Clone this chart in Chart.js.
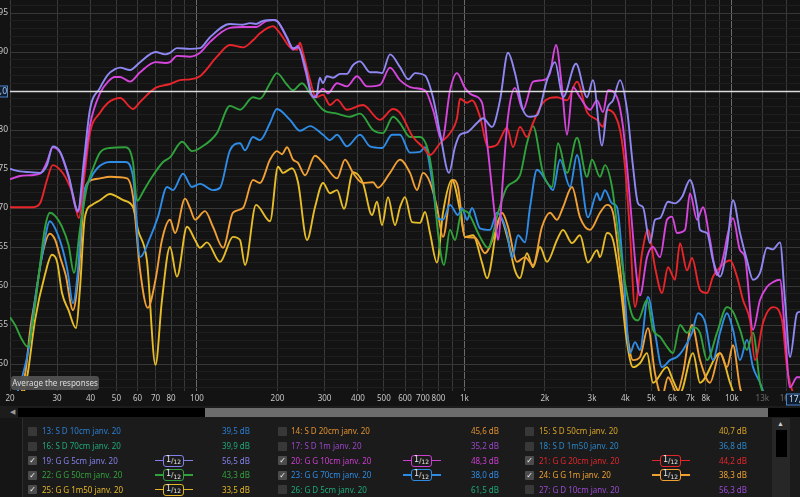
<!DOCTYPE html>
<html>
<head>
<meta charset="utf-8">
<script src="https://cdn.jsdelivr.net/npm/chart.js@4.4.1/dist/chart.umd.min.js"></script>
<style>
  html, body { margin: 0; padding: 0; background: #131313; }
  #wrap { position: relative; width: 800px; height: 497px; overflow: hidden; font-family: "Noto Sans", sans-serif; }
  #c { position: absolute; left: 0; top: 0; }
  .tip { position: absolute; left: 11px; top: 376px; width: 88px; height: 14px; background: rgba(80,80,80,0.95);
         border-radius: 3px; color: #dedede; font-size: 8px; line-height: 14px; text-align: center; }
  #hs { position: absolute; left: 0; top: 406px; width: 800px; height: 12px; background: #1c1c1c; }
  #hs .arr { position: absolute; left: 10px; top: 0; font-size: 7px; line-height: 12px; color: #9a9a9a; }
  #hs .b { position: absolute; top: 2px; height: 9px; }
  #legend { position: absolute; left: 0; top: 418px; width: 800px; height: 79px; background: #1b1b1b; overflow: hidden; }
  #legend .side { position: absolute; left: 0; top: 0; width: 22px; height: 79px; background: #151515; border-right: 1px solid #2c2c2c; }
  #legend .cb { position: absolute; width: 9px; height: 9px; border-radius: 1px; background: #383838;
                color: #f0f0f0; font: 8px/9px "DejaVu Sans", sans-serif; text-align: center; }
  #legend .cb.on { background: #4c4c4c; }
  #legend .nm, #legend .lv { position: absolute; font-size: 8px; line-height: 12px; white-space: nowrap; }
  #legend .ic { position: absolute; width: 38px; height: 12px; }
  #legend .ic .ln { position: absolute; left: 0; top: 5.4px; width: 38px; height: 1.3px; }
  #legend .ic .bx { position: absolute; left: 8px; top: 0; width: 19px; height: 10px; border: 1.3px solid; border-radius: 3px;
                    background: #1b1b1b; color: #e8e8e8; font: 7px/10px "DejaVu Sans", sans-serif; text-align: center; }
  #legend .ic .bx i { font-style: normal; font-size: 8px; position: relative; top: -1px; }
  #legend .ic .bx b { font-weight: normal; font-size: 6px; position: relative; top: 1.5px; }
  #vs { position: absolute; left: 772px; top: 0; width: 18px; height: 79px; background: #272727; }
  #vs .up { position: absolute; left: 5px; top: 1px; font-size: 7px; line-height: 10px; color: #d0d0d0; }
  #vs .th { position: absolute; left: 4px; top: 12px; width: 11px; height: 27px; background: #000; }
</style>
</head>
<body>
<div id="wrap">
  <canvas id="c" width="800" height="406" style="width:800px;height:406px"></canvas>
  <div class="tip">Average the responses</div>
  <div id="hs">
    <div class="arr">&#9664;</div>
    <div class="b" style="left:18px;width:187px;background:#000"></div>
    <div class="b" style="left:205px;width:563px;background:#6c6c6c"></div>
    <div class="b" style="left:768px;width:32px;background:#000"></div>
  </div>
  <div id="legend">
    <div class="side"></div>
    <div id="vs"><div class="up">&#9650;</div><div class="th"></div></div>
  </div>
</div>
<script>
// frequency axis ticks (Hz)
const xTicks = [20, 30, 40, 50, 60, 70, 80, 90, 100, 200, 300, 400, 500, 600, 700, 800, 900,
  1000, 2000, 3000, 4000, 5000, 6000, 7000, 8000, 9000, 10000, 13000, 16000];
const xUnlabelled = [90, 900, 9000];
const xDim = [13000, 16000];

// 19: G G 5cm
const f19 = [20,21.8,23.8,25.9,27.5,28.9,30.8,33.1,35.9,37.8,39.8,43.4,46.5,49.4,51.6,56.2,61.3,70,76,79.3,
  84.2,94.2,102.7,111.9,132.9,148.7,157.9,166.3,176.6,192.5,199,217,229,239,254,269,279,288,296,306,
  323,343,364,383,407,444,471,492,527,574,617,654,712,763,811,876,922,963,1023,1115,
  1174,1269,1359,1456,1546,1656,1760,1869,2037,2182,2338,2615,2874,3026,3271,3414,3596,3819,4057,4271,
  4459,4655,4944,5162,5389,5773,6131,6512,6977,7411,7604,8076,8505,9033,9594,10102,10730,11396,12001,12747,
  13539,14257,15142,15808,16503,17529,17987];
const db19 = [75.0,74.7,74.6,74.5,75.5,77.9,77.2,74.2,69.7,76.1,82.6,85.4,87.1,87.8,88.0,87.7,88.7,90.0,89.7,89.9,
  90.5,90.4,90.5,91.9,93.6,93.5,93.7,93.6,94.0,94.1,94.0,91.9,90.5,90.6,88.1,84.5,84.2,86.7,86.0,86.9,
  86.7,87.2,87.2,88.3,88.8,87.4,87.4,87.3,89.7,88.1,86.5,87.3,87.0,84.2,79.6,74.5,77.8,79.4,79.7,80.9,
  81.5,80.4,83.8,89.9,87.3,82.6,81.7,81.9,86.4,88.7,84.2,88.5,84.2,86.4,78.0,82.6,83.8,86.4,82.6,75.3,
  70.6,70.1,65.5,68.5,68.7,70.8,70.6,71.4,73.6,70.1,67.2,66.8,63.3,61.2,65.0,71.0,66.8,63.3,60.8,61.7,
  64.9,64.7,65.6,58.2,50.9,56.5,56.7];

// 20: G G 10cm
const f20 = [20,21.8,23.8,25.9,27.5,28.9,30.8,33.1,35.9,37.8,39.8,43.4,46.5,49.4,51.6,56.2,61.3,70,76,79.3,
  84.2,94.2,102.7,111.9,132.9,148.7,166.3,182.2,195.9,217,229,239,254,272,284,296,309,334,364,397,
  432,484,527,574,643,712,763,825,884,938,1005,1068,1164,1225,1302,1336,1395,1456,1546,1656,
  1806,1968,2090,2201,2318,2419,2548,2706,2949,3133,3299,3444,3722,3919,4162,4420,4536,4818,5073,5389,
  5723,5975,6237,6682,6977,7411,7803,8288,8802,9269,9677,10102,10730,11202,12001,12747,13539,14257,15142,15808,
  16503,17529,17987];
const db20 = [73.7,74.1,74.2,74.4,75.9,77.8,77.1,74.0,69.5,74.9,80.6,84.7,86.2,86.8,86.8,86.2,87.4,88.7,88.6,88.7,
  89.5,89.4,89.9,91.3,93.1,93.2,93.2,94.0,94.1,91.8,90.3,90.8,87.7,84.2,84.7,85.3,84.7,86.0,85.6,86.9,
  85.6,85.8,88.0,86.4,85.4,85.1,82.6,78.7,85.1,87.3,85.4,84.5,83.5,77.4,68.8,65.9,74.0,81.7,85.4,82.6,
  86.2,86.4,87.3,90.9,85.4,79.4,85.5,84.2,82.6,83.8,82.3,85.1,84.2,80.4,71.0,60.8,58.8,63.7,65.0,63.7,
  68.5,68.9,66.8,67.2,71.9,68.5,70.1,65.9,61.4,63.6,66.8,68.7,64.6,63.7,54.4,58.2,59.9,60.5,60.8,54.0,
  47.0,48.3,48.3];

// 21: G G 20cm
const f21 = [20,21.8,24.4,25.9,27.5,28.9,30.8,32.3,34.4,36.2,37.8,39.8,43.4,46.5,49.4,51.6,57.7,61.3,70,79.3,
  86.4,94.2,102.7,118.8,132.9,148.7,162,172.1,192.5,204.5,222.8,236.7,242.9,249.2,264.7,278.7,296.1,314.5,334.2,363.9,
  417.7,483.6,540.9,574.5,642.6,700.4,743.8,810.7,883.6,938.4,963,1023,1068,1144,1225,1324,1444,1520,1614,1714,
  1806,1968,2220,2419,2637,2874,3133,3299,3414,3658,3819,3987,4162,4345,4615,4859,5162,5483,5773,6131,
  6401,6798,7098,7604,8076,8505,9033,9845,10456,11011,11695,12209,13081,14257,15405,16082,16789,17987];
const db21 = [70.1,70.1,70.1,70.6,73.6,75.5,74.9,73.9,71.7,68.7,73.6,79.6,82.2,83.5,84.0,84.1,82.7,83.6,85.4,85.9,
  86.4,86.5,86.9,89.4,90.9,90.6,91.5,92.4,93.3,92.4,90.6,90.3,91.2,89.9,86.4,84.2,84.5,83.2,83.9,82.6,
  83.2,81.3,82.7,82.2,79.1,77.8,76.8,78.3,79.6,81.5,84.0,83.5,83.8,81.7,77.8,78.1,80.3,77.8,80.4,79.1,
  80.9,83.5,84.2,83.8,86.2,82.3,81.3,80.4,82.6,81.9,80.0,75.3,66.8,57.3,64.2,67.2,62.4,59.1,62.4,60.8,
  65.5,62.0,63.6,59.5,59.1,61.2,62.4,63.3,61.2,58.2,55.6,50.5,55.3,57.3,55.6,49.6,46.7,45.4];

// 22: G G 50cm
const f22 = [20,20.9,22.2,23.3,24.4,25.9,27.0,28.2,29.5,31.3,33.1,34.7,36.5,38.8,40.9,43.4,47.3,53.9,57.7,59.7,
  62.9,66.8,74.7,79.3,88.0,95.8,102.7,118.8,132.9,144.9,162,172.1,187.6,199,217.2,228.7,247.1,264.7,296.1,334.2,
  373.6,407.1,455.3,496.2,540.9,574.5,626.2,682.5,731.3,763.3,796.8,839.1,883.6,922.4,979.7,1032,1144,1225,1336,1444,
  1614,1714,1806,1968,2126,2239,2419,2637,2874,3000,3215,3356,3565,3754,3987,4271,4459,4818,5073,5389,
  5723,6027,6401,6798,7160,7604,8076,8802,9594,10102,10730,11396,12001,12747,13539,17987];
const db22 = [56.0,55.0,53.1,52.2,55.6,62.7,67.4,69.4,69.0,67.6,65.3,61.7,67.2,72.7,75.1,77.1,77.7,77.8,75.8,70.9,
  72.1,73.6,75.9,76.5,78.5,77.3,77.7,79.6,83.1,82.6,84.2,84.0,86.0,87.3,85.8,85.1,86.0,84.7,82.6,82.1,
  81.7,82.1,80.0,79.6,81.7,80.9,79.1,79.1,77.4,73.6,66.8,62.7,67.2,65.9,69.7,69.4,66.3,64.9,69.4,72.7,
  74.2,78.3,80.5,74.5,72.7,78.3,74.5,79.0,74.0,76.2,74.0,75.5,72.7,66.8,60.4,56.0,55.6,58.2,54.4,53.5,
  52.2,51.4,55.0,54.0,54.7,54.0,50.5,54.0,57.3,56.7,54.4,51.8,54.0,47.6,45.4,41.5];

// 23: G G 70cm
const f23 = [20.9,22.4,23.6,24.8,26.4,28.2,29.5,31.3,32.8,34.4,35.9,37.5,39.8,42.4,47.3,53.9,57.7,61.3,66.8,71.4,
  77.3,81.4,88.7,95.8,102.7,114.8,122.0,132.9,144.9,151.3,162,172.1,187.6,199,222.8,242.9,264.7,296.1,314.5,334.2,
  363.9,407.1,443.7,492.0,536.2,574.5,626.2,682.5,712.5,763.3,790,831.9,883.6,946.5,979.7,1023,1068,1144,1247,1324,
  1444,1507,1587,1685,1760,1869,2037,2145,2278,2483,2637,2899,3133,3215,3356,3565,3722,3919,4162,4345,
  4536,4859,5162,5483,5873,6237,6569,7098,7475,7938,8505,9033,9594,10102,10730,11396,12001,12747,13893];
const db23 = [45.4,48.8,52.4,58.2,64.0,68.3,67.4,65.0,62.0,57.8,62.0,71.0,73.6,75.1,75.9,75.9,74.0,63.7,66.2,68.8,
  72.7,72.3,74.4,72.7,73.1,72.3,72.6,77.4,78.3,77.4,79.1,78.7,80.9,82.7,81.3,79.9,80.5,79.4,78.7,79.4,
  77.9,79.4,77.9,77.7,79.4,79.4,77.1,77.2,77.8,72.7,68.8,68.5,70.4,69.1,70.0,68.5,70.0,67.4,67.2,69.4,
  66.8,63.6,66.5,65.6,70.1,74.9,73.3,72.3,76.2,72.7,76.8,68.8,71.9,71.0,72.3,70.6,70.1,62.4,51.4,52.8,
  51.8,58.6,54.0,49.6,50.5,50.9,51.8,54.0,56.5,55.4,50.5,54.0,56.5,54.4,50.5,53.1,49.6,47.6,44.1];

// 24: G G 1m
const f24 = [21.8,22.9,23.8,24.8,26.4,28.2,29.5,30.8,32.3,34.4,36.2,38.1,40.5,43.4,47.3,54.8,57.7,61.3,65.5,70.0,
  74.0,79.3,82.8,90.3,94.2,98.4,107.2,114.8,125.2,136.4,148.7,162,172.1,187.6,199,208.1,217.2,228.7,238.7,253.6,
  276.3,296.1,334.2,357.8,383.4,417.7,455.3,475.3,527.1,574.5,626.2,665.0,700.4,743.8,790,831.9,906.7,946.5,1005,1096,
  1194,1302,1383,1456,1573,1685,1806,1951,2090,2220,2338,2526,2706,2949,3215,3414,3596,3819,4057,4271,
  4536,4859,5162,5483,5773,6237,6569,7098,7604,8288,9033,9594,10102,10730,11695];
const db24 = [45.4,49.2,54.4,58.2,64.0,66.7,65.9,63.7,61.4,56.9,62.0,72.3,73.6,73.8,74.0,73.8,71.4,62.0,57.2,60.8,
  65.9,68.5,66.8,71.2,70.0,68.5,69.6,67.6,64.9,69.4,70.0,73.6,73.2,76.2,77.3,76.9,77.8,76.2,75.8,74.2,
  76.7,75.8,73.8,76.2,74.5,73.2,73.3,72.6,74.5,76.2,74.5,72.3,74.5,73.3,70.1,66.3,73.6,72.7,66.3,66.2,
  64.2,66.8,69.4,67.6,63.1,63.7,62.7,67.6,69.4,68.5,70.1,72.7,68.8,67.2,69.4,70.4,69.4,62.4,54.0,50.5,
  50.9,54.6,48.8,45.8,48.3,46.3,48.8,55.0,50.5,47.6,51.4,49.6,52.4,47.0,44.1];

// 25: G G 1m50
const f25 = [22.2,23.3,24.8,27.0,28.7,30.0,31.3,33.1,35.3,36.5,38.1,40.5,43.4,47.3,53.0,57.7,60.2,65.0,70.0,74.0,
  79.3,84.2,91.8,98.4,102.7,109.0,122.0,136.4,144.9,151.3,166.3,187.6,201.0,209.9,226.7,238.7,258.0,276.3,296.1,314.5,
  334.2,354.7,383.4,417.7,451.4,471.2,492.0,518.1,550.3,574.5,599.7,637.1,682.5,712.5,743.8,790,831.9,898.9,963,1005,
  1077,1164,1215,1359,1456,1546,1614,1714,1806,1918,2037,2220,2338,2526,2706,2899,3133,3215,3414,3596,
  3819,4057,4271,4536,4818,5073,5723,6027,6401,7160,7604,9033,9845,10730];
const db25 = [45.4,48.8,55.6,61.4,64.0,63.1,59.1,56.9,54.6,59.5,68.8,70.4,71.0,71.8,71.0,70.1,67.2,63.3,49.9,58.2,
  65.0,61.2,67.6,65.9,64.9,65.6,63.1,66.3,65.9,62.7,70.4,68.3,75.3,74.5,75.1,73.3,65.9,70.1,73.2,71.9,
  72.3,69.9,74.6,73.2,69.1,70.8,67.8,71.4,67.8,70.1,71.4,68.2,68.1,69.5,66.8,63.0,69.4,73.6,69.7,66.3,
  66.5,63.0,61.0,68.8,65.9,62.0,61.0,64.2,62.4,65.0,63.1,65.9,67.2,65.5,66.5,63.0,64.6,63.7,66.8,65.9,
  60.4,52.7,49.6,50.1,51.4,47.6,49.6,47.9,46.3,51.4,47.6,51.4,47.6,44.1];

const cursorDb = 85;
const cursorHz = '17,9';

// legend table
const legendIds = [13, 14, 15, 16, 17, 18, 19, 20, 21, 22, 23, 24, 25, 26, 27];
const legendNames = ['S D 10cm', 'S D 20cm', 'S D 50cm', 'S D 70cm', 'S D 1m', 'S D 1m50',
  'G G 5cm', 'G G 10cm', 'G G 20cm', 'G G 50cm', 'G G 70cm', 'G G 1m', 'G G 1m50', 'G D 5cm', 'G D 10cm'];
const legendLevels = [39.5, 45.6, 40.7, 39.9, 35.2, 36.8, 56.5, 48.3, 44.2, 43.3, 38.0, 38.3, 33.5, 61.5, 56.3];
const legendChecked = [0, 0, 0, 0, 0, 0, 1, 1, 1, 1, 1, 1, 1, 0, 0];
const legendColors = ['#2b7fd4', '#e0902e', '#d9a426', '#1fa878', '#9a46c8', '#2a86c8',
  '#8480ea', '#cc3fd0', '#e3262c', '#32a03c', '#2e8be3', '#eea032', '#e5b726', '#1fa878', '#9a4ad0'];

const series = [
  { id: 19, f: f19, db: db19, color: '#8f87f2' },
  { id: 20, f: f20, db: db20, color: '#d645dc' },
  { id: 21, f: f21, db: db21, color: '#e8252b' },
  { id: 22, f: f22, db: db22, color: '#30a23c' },
  { id: 23, f: f23, db: db23, color: '#2f8ce6' },
  { id: 24, f: f24, db: db24, color: '#f0a034' },
  { id: 25, f: f25, db: db25, color: '#e6bd28' },
];

const xLabel = v => {
  if (xUnlabelled.includes(v)) return '';
  return v >= 1000 ? (v / 1000) + 'k' : String(v);
};

const overlay = {
  id: 'overlay',
  beforeDraw(chart) {
    const { ctx, width, height } = chart;
    ctx.save();
    ctx.fillStyle = '#131313';
    ctx.fillRect(0, 0, width, height);
    ctx.restore();
  },
  afterDatasetsDraw(chart) {
    const { ctx, chartArea, scales } = chart;
    const py = Math.round(scales.y.getPixelForValue(cursorDb)) + 0.5;
    ctx.save();
    ctx.strokeStyle = '#dcdcdc';
    ctx.lineWidth = 1.4;
    ctx.beginPath();
    ctx.moveTo(chartArea.left, py);
    ctx.lineTo(chartArea.right, py);
    ctx.stroke();
    ctx.restore();
  },
  afterDraw(chart) {
    const { ctx, chartArea, scales } = chart;
    const py = Math.round(scales.y.getPixelForValue(cursorDb)) + 0.5;
    ctx.save();
    ctx.font = '8.5px "Noto Sans"';
    ctx.textBaseline = 'middle';
    // y cursor readout
    ctx.fillStyle = '#0f1d31';
    ctx.fillRect(-16, py - 6, 24, 12);
    ctx.strokeStyle = '#4f82c4';
    ctx.lineWidth = 1;
    ctx.strokeRect(-15.5, py - 5.5, 23, 11);
    ctx.fillStyle = '#a9c8ef';
    ctx.textAlign = 'right';
    ctx.fillText('85,0', 7, py);
    // x cursor readout
    const by = chartArea.bottom + 2.5;
    ctx.fillStyle = '#0f1d31';
    ctx.fillRect(786, by, 16, 12);
    ctx.strokeRect(786.5, by + 0.5, 16, 11);
    ctx.fillStyle = '#cfd9e8';
    ctx.textAlign = 'left';
    ctx.fillText(cursorHz, 789, by + 6.5);
    ctx.restore();
  }
};

new Chart(document.getElementById('c'), {
  type: 'line',
  data: {
    datasets: series.map(s => ({
      label: String(s.id),
      data: s.f.slice(0, s.db.length).map((f, i) => ({ x: f, y: s.db[i] })),
      borderColor: s.color,
      borderWidth: 1.9,
      pointRadius: 0,
      fill: false,
      cubicInterpolationMode: 'monotone',
    })),
  },
  options: {
    responsive: false,
    animation: false,
    layout: { padding: 0 },
    plugins: { legend: { display: false }, tooltip: { enabled: false } },
    scales: {
      x: {
        type: 'logarithmic',
        min: 20,
        max: 17987,
        afterBuildTicks: s => { s.ticks = xTicks.map(v => ({ value: v })); },
        afterFit: s => { s.height = 15; s.paddingLeft = 0; s.paddingRight = 0; },
        border: { display: false },
        grid: {
          drawTicks: false,
          color: c => [100, 1000, 10000].includes(c.tick && c.tick.value) ? '#6a6a6a' : '#393939',
          lineWidth: 1,
        },
        ticks: {
          autoSkip: false,
          maxRotation: 0,
          padding: 3,
          font: { family: 'Noto Sans', size: 8 },
          color: c => xDim.includes(c.tick && c.tick.value) ? '#6a6a6a' : '#c6c6c6',
          callback: v => xLabel(v),
        },
      },
      y: {
        min: 46.54,
        max: 96.67,
        afterBuildTicks: s => {
          const t = [];
          for (let v = 47; v <= 96; v++) t.push({ value: v });
          s.ticks = t;
        },
        afterFit: s => { s.width = 10; s.paddingTop = 0; s.paddingBottom = 0; },
        border: { display: false },
        grid: {
          drawTicks: false,
          color: c => (c.tick && c.tick.value % 5 === 0) ? '#373737' : '#1f1f1f',
        },
        ticks: {
          autoSkip: false,
          padding: 2,
          font: { family: 'Noto Sans', size: 8.5 },
          color: '#c6c6c6',
          callback: v => (v % 5 === 0 ? String(v) : ''),
        },
      },
    },
  },
  plugins: [overlay],
});

// legend rows under the graph
const legend = document.getElementById('legend');
const cols = [
  { cb: 28, name: 42, icon: 174, val: 250 },
  { cb: 278, name: 291, icon: 422, val: 499 },
  { cb: 525, name: 539, icon: 671, val: 747 },
];
const rowCenters = [13, 28, 42.5, 57, 71.5];

legendIds.forEach((id, i) => {
  const col = cols[i % 3];
  const cy = rowCenters[Math.floor(i / 3)];
  const color = legendColors[i];
  const on = legendChecked[i] === 1;

  const cb = document.createElement('div');
  cb.className = 'cb' + (on ? ' on' : '');
  cb.style.left = col.cb + 'px';
  cb.style.top = (cy - 4.5) + 'px';
  if (on) cb.textContent = '\u2713';
  legend.appendChild(cb);

  const nm = document.createElement('div');
  nm.className = 'nm';
  nm.style.left = col.name + 'px';
  nm.style.top = (cy - 6) + 'px';
  nm.style.color = color;
  nm.textContent = id + ': ' + legendNames[i] + ' janv. 20';
  legend.appendChild(nm);

  if (on) {
    const ic = document.createElement('div');
    ic.className = 'ic';
    ic.style.left = (col.icon - 19) + 'px';
    ic.style.top = (cy - 6) + 'px';
    ic.innerHTML = '<div class="ln" style="background:' + color + '"></div>' +
      '<div class="bx" style="border-color:' + color + '"><i>1</i>/<b>12</b></div>';
    legend.appendChild(ic);
  }

  const lv = document.createElement('div');
  lv.className = 'lv';
  lv.style.right = (800 - col.val) + 'px';
  lv.style.top = (cy - 6) + 'px';
  lv.style.color = color;
  lv.textContent = legendLevels[i].toFixed(1).replace('.', ',') + ' dB';
  legend.appendChild(lv);
});
</script>
</body>
</html>
